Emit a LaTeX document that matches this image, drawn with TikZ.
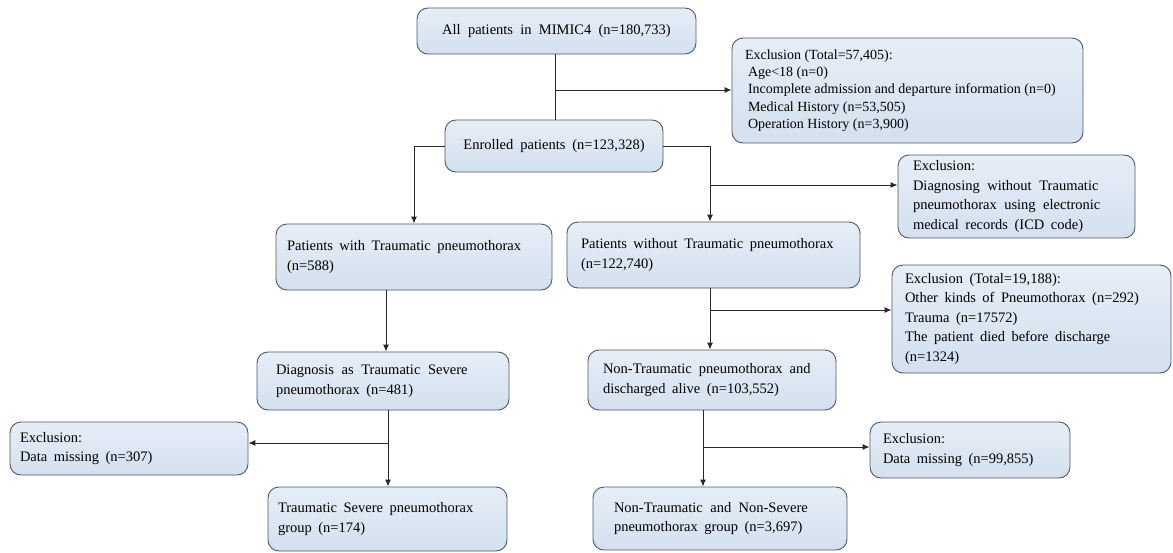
\documentclass[tikz,border=0pt]{standalone}
\usepackage{fontspec}
\setmainfont{Liberation Serif}
\usetikzlibrary{arrows.meta,calc}
\definecolor{boxtop}{RGB}{230,238,247}
\definecolor{boxbot}{RGB}{212,224,239}
\definecolor{boxline}{RGB}{80,88,100}
\definecolor{conn}{RGB}{40,40,40}
\newcommand{\widesp}{\spaceskip=0.45em plus 0.1em\relax}
\newcommand{\normsp}{\spaceskip=0pt\relax}
\tikzset{
  flowbox/.style={draw=boxline, line width=0.9pt, top color=boxtop, bottom color=boxbot, rounded corners=11pt,
    inner ysep=0pt, align=left, font=\fontsize{14.5}{19.5}\selectfont,
    execute at begin node=\widesp},
  arr/.style={draw=conn, line width=1pt, -{Latex[length=7pt,width=6pt]}},
  ln/.style={draw=conn, line width=1pt},
}
\newcommand{\mybox}[8]{% name, x1,y1,x2,y2, pad, extra style, text
  \node[flowbox, #7, minimum width={#4-#2}, minimum height={#5-#3}, inner xsep=#6, text width={#4-#2-2*#6}]
   (#1) at ({(#2+#4)/2},{(#3+#5)/2}) {#8};}
\begin{document}
\begin{tikzpicture}[x=1pt,y=-1pt]
\useasboundingbox (0,0) rectangle (1173,552);
\mybox{A}{417}{8}{696}{54}{10}{align=center}{All patients in MIMIC4 (n=180,733)}
\mybox{B}{445}{120}{663}{172}{10}{align=center}{Enrolled patients (n=123,328)}
\mybox{E1}{732}{38}{1083}{143}{13}{font=\fontsize{14}{17.3}\selectfont, execute at begin node=\normsp}{Exclusion (Total=57,405):\\
\hspace{3pt}Age<18 (n=0)\\
\hspace{3pt}Incomplete admission and departure information (n=0)\\
\hspace{3pt}Medical History (n=53,505)\\
\hspace{3pt}Operation History (n=3,900)}
\mybox{C}{276}{224}{552}{290}{11}{}{Patients with Traumatic pneumothorax\\(n=588)}
\mybox{D}{567}{222}{860}{288}{14}{}{Patients without Traumatic pneumothorax\\ (n=122,740)}
\mybox{E2}{898}{155}{1135}{238}{15}{}{Exclusion:\\Diagnosing without Traumatic pneumothorax using electronic medical records (ICD code)}
\mybox{E3}{892}{265}{1171}{373}{13}{}{Exclusion (Total=19,188):\\Other kinds of Pneumothorax (n=292)\\Trauma (n=17572)\\The patient died before discharge\\(n=1324)}
\mybox{F}{588}{350}{836}{410}{15}{}{Non-Traumatic pneumothorax and discharged alive (n=103,552)}
\mybox{G}{870}{422}{1070}{478}{13}{}{Exclusion:\\Data missing (n=99,855)}
\mybox{H}{593}{487}{847}{550}{21}{}{Non-Traumatic and Non-Severe pneumothorax group (n=3,697)}
\mybox{I}{257}{352}{509}{410}{19}{}{Diagnosis as Traumatic Severe pneumothorax (n=481)}
\mybox{J}{10}{422}{248}{475}{10}{}{Exclusion:\\Data missing (n=307)}
\mybox{K}{268}{487}{507}{551}{10}{}{Traumatic Severe pneumothorax\\group (n=174)}
% connectors
\coordinate (ab) at (555,90);
\coordinate (bd) at (710,185);
\coordinate (df) at (710,310);
\coordinate (fh) at (703,447);
\coordinate (ci) at (386,0);
\coordinate (ik) at (388,443);
\draw[ln] (ab |- A.south) -- (ab |- B.north);
\draw[arr] (ab) -- (ab -| E1.west);
\draw[arr] (B.west) -| (C.north);
\draw[arr] (B.east) -| (bd |- D.north);
\draw[arr] (bd) -- (bd -| E2.west);
\draw[arr] (df |- D.south) -- (df |- F.north);
\draw[arr] (df) -- (df -| E3.west);
\draw[arr] (fh |- F.south) -- (fh |- H.north);
\draw[arr] (fh) -- (fh -| G.west);
\draw[arr] (ci |- C.south) -- (ci |- I.north);
\draw[arr] (ik |- I.south) -- (ik |- K.north);
\draw[arr] (ik) -- (ik -| J.east);
\end{tikzpicture}
\end{document}
